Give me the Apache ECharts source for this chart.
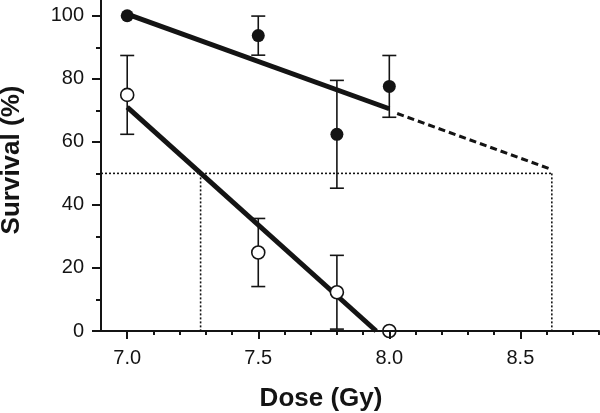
<!DOCTYPE html>
<html>
<head>
<meta charset="utf-8">
<script src="https://cdn.jsdelivr.net/npm/echarts@6/dist/echarts.min.js"></script>
<style>html,body{margin:0;padding:0;background:#fff}#c{width:600px;height:413px}</style>
</head>
<body>
<div id="c"></div>
<script>
// ---- data ----
var doses = [7.0, 7.5, 7.8, 8.0];
var filledMean = [100, 93.7, 62.4, 77.6];
var filledErr  = [0, 6.2, 17.1, 9.8];
var openMean   = [74.9, 24.9, 12.3, 0];
var openErr    = [12.5, 10.8, 11.7, 0];
var filledFit  = [[7.0, 100.5], [8.0, 70.5]];
var filledExtrap = [[8.03, 69.0], [8.62, 51.2]];
var openFit    = [[7.0, 71.0], [7.95, 0]];
var ld50Line   = [[6.9, 50], [8.62, 50]];
var ld50Open   = [[7.28, 50], [7.28, 0]];
var ld50Filled = [[8.62, 50], [8.62, 0]];
var xMajorTicks = [7.0, 7.5, 8.0, 8.5];
var xMinorTicks = [7.1, 7.2, 7.3, 7.4, 7.6, 7.7, 7.8, 7.9, 8.1, 8.2, 8.3, 8.4, 8.6, 8.7, 8.8];
var yMajorTicks = [0, 20, 40, 60, 80, 100];
var yMinorTicks = [10, 30, 50, 70, 90];
var xTitle = 'Dose (Gy)';
var yTitle = 'Survival (%)';

var INK = '#141414';
var FONT = 'Liberation Sans, Arial, sans-serif';

function errData(means, errs) {
  return doses.map(function (d, i) { return [d, means[i] - errs[i], means[i] + errs[i]]; })
              .filter(function (r) { return r[2] - r[1] > 0; });
}
function errRender(params, api) {
  var x = api.value(0), lo = api.value(1), hi = api.value(2);
  var pLo = api.coord([x, lo]), pHi = api.coord([x, hi]);
  var w = 7;
  var st = { stroke: INK, lineWidth: 1.6 };
  return { type: 'group', children: [
    { type: 'line', shape: { x1: pLo[0], y1: pLo[1], x2: pHi[0], y2: pHi[1] }, style: st },
    { type: 'line', shape: { x1: pLo[0] - w, y1: pLo[1], x2: pLo[0] + w, y2: pLo[1] }, style: st },
    { type: 'line', shape: { x1: pHi[0] - w, y1: pHi[1], x2: pHi[0] + w, y2: pHi[1] }, style: st }
  ]};
}
function lineSeries(data, width, type, z) {
  return { type: 'line', data: data, symbol: 'none', silent: true, clip: false, z: z || 3,
           lineStyle: { color: INK, width: width, type: type || 'solid', cap: 'butt', opacity: 1 }, animation: false };
}

var chart = echarts.init(document.getElementById('c'));
chart.setOption({
  animation: false,
  grid: { left: 101, right: 1, top: 0, bottom: 82, containLabel: false },
  xAxis: [
    { type: 'value', min: 6.9, max: 8.8, z: 10,
      axisLine: { show: true, lineStyle: { color: INK, width: 2 } },
      axisTick: { show: true, length: 8, lineStyle: { color: INK, width: 2 }, customValues: xMajorTicks },
      axisLabel: { customValues: xMajorTicks, margin: 17, fontSize: 20, fontFamily: FONT, color: INK,
                   formatter: function (v) { return v.toFixed(1); } },
      splitLine: { show: false } },
    { type: 'value', min: 6.9, max: 8.8, position: 'bottom', z: 10,
      axisLine: { show: false },
      axisTick: { show: true, length: 4, lineStyle: { color: INK, width: 2 }, customValues: xMinorTicks },
      axisLabel: { show: false }, splitLine: { show: false } }
  ],
  yAxis: [
    { type: 'value', min: 0, max: 105, z: 10,
      axisLine: { show: true, lineStyle: { color: INK, width: 2 } },
      axisTick: { show: true, length: 9, lineStyle: { color: INK, width: 2 }, customValues: yMajorTicks },
      axisLabel: { customValues: yMajorTicks, margin: 17, fontSize: 20, fontFamily: FONT, color: INK },
      splitLine: { show: false } },
    { type: 'value', min: 0, max: 105, position: 'left', z: 10,
      axisLine: { show: false },
      axisTick: { show: true, length: 5, lineStyle: { color: INK, width: 2 }, customValues: yMinorTicks },
      axisLabel: { show: false }, splitLine: { show: false } }
  ],
  graphic: [
    { type: 'text', x: 321, y: 399, z: 20,
      style: { text: xTitle, font: 'bold 26px ' + FONT, fill: INK, textAlign: 'center', textVerticalAlign: 'middle' } },
    { type: 'text', x: 12, y: 160, rotation: Math.PI / 2, z: 20,
      style: { text: yTitle, font: 'bold 26px ' + FONT, fill: INK, textAlign: 'center', textVerticalAlign: 'middle' } }
  ],
  series: [
    lineSeries(ld50Line, 1.6, [2, 2], 1),
    lineSeries(ld50Open, 1.6, [2, 2], 1),
    lineSeries(ld50Filled, 1.6, [2, 2], 1),
    { type: 'custom', renderItem: errRender, data: errData(filledMean, filledErr), z: 2, clip: false, silent: true },
    { type: 'custom', renderItem: errRender, data: errData(openMean, openErr), z: 2, clip: false, silent: true },
    lineSeries(filledFit, 5, 'solid', 3),
    lineSeries(filledExtrap, 3, [7, 4], 3),
    lineSeries(openFit, 5, 'solid', 3),
    { type: 'scatter', data: doses.map(function (d, i) { return [d, filledMean[i]]; }), symbol: 'circle', symbolSize: 13,
      itemStyle: { color: INK, opacity: 1 }, z: 5, clip: false, silent: true },
    { type: 'scatter', data: doses.map(function (d, i) { return [d, openMean[i]]; }), symbol: 'circle', symbolSize: 13,
      itemStyle: { color: '#fff', borderColor: INK, borderWidth: 1.6, opacity: 1 }, z: 5, clip: false, silent: true }
  ]
});
</script>
</body>
</html>
